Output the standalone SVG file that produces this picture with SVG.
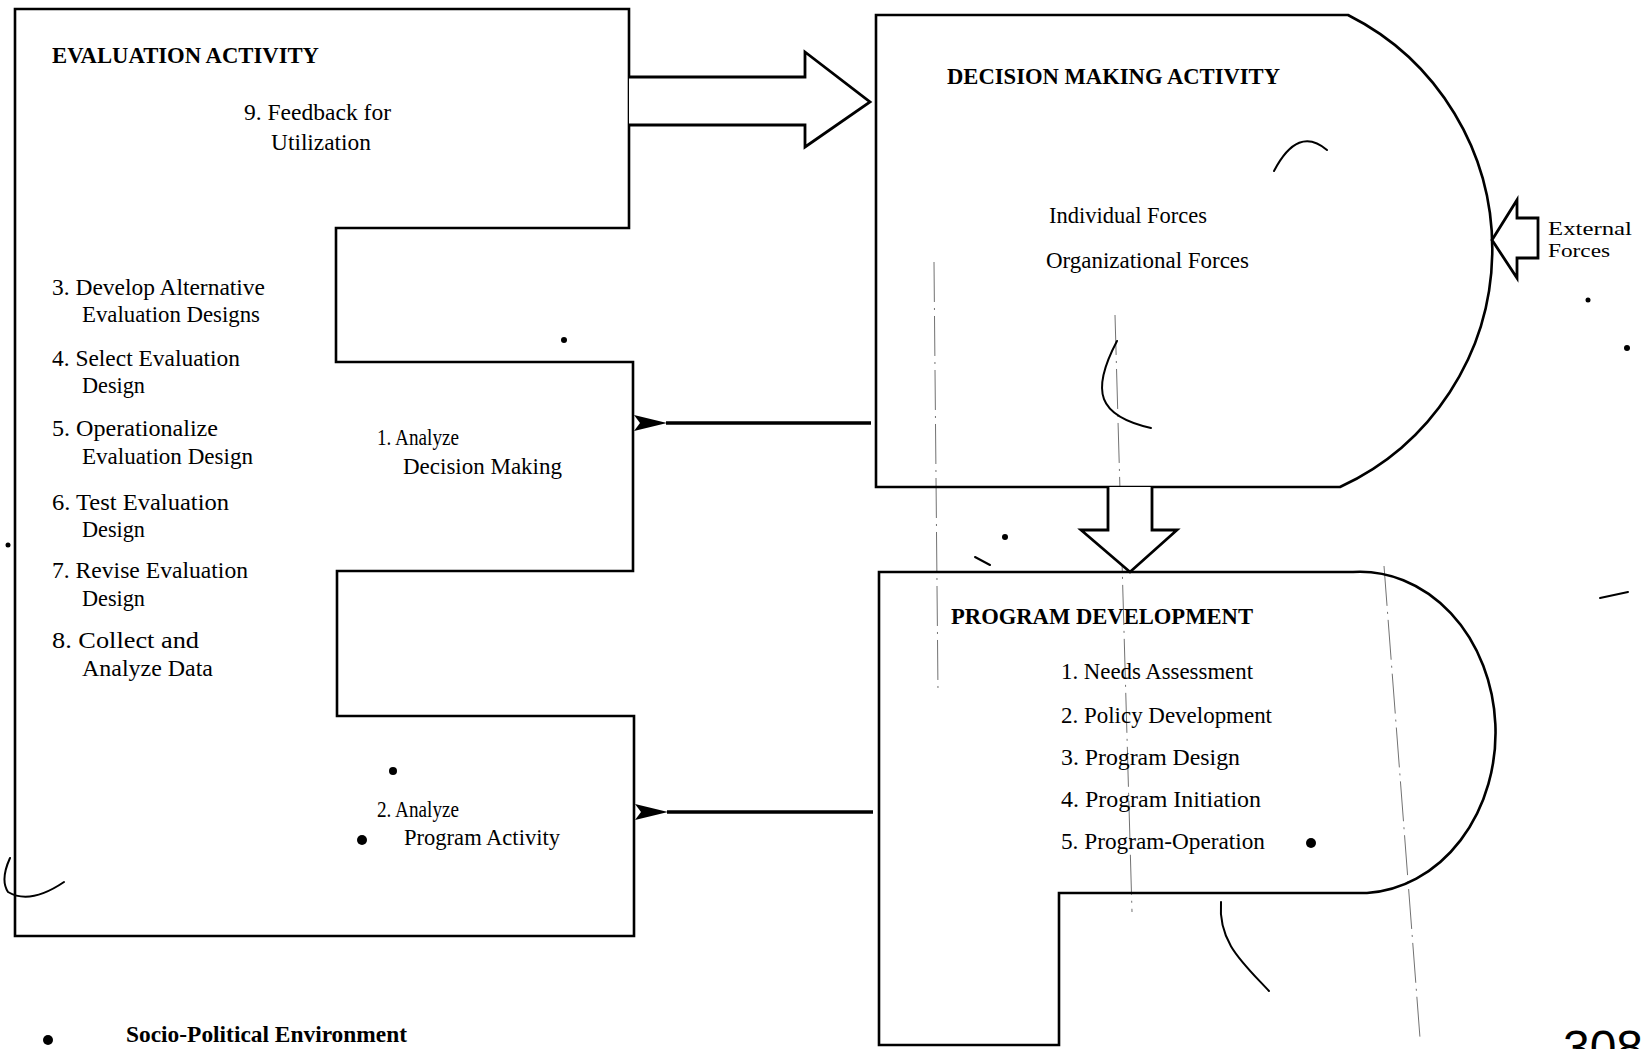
<svg xmlns="http://www.w3.org/2000/svg" width="1644" height="1049" viewBox="0 0 1644 1049">
  <defs>
    <style>
      .shape { fill: none; stroke: #000; stroke-width: 2.6; stroke-linejoin: miter; }
      .hollow { fill: #fff; stroke: #000; stroke-width: 2.8; stroke-linejoin: miter; }
      .link { fill: none; stroke: #000; stroke-width: 3.5; }
      .head { font-family: "Liberation Serif", "Times New Roman", serif; font-weight: bold; font-size: 23px; fill: #000; }
      .body { font-family: "Liberation Serif", "Times New Roman", serif; font-size: 23px; fill: #000; }
      .small { font-family: "Liberation Serif", "Times New Roman", serif; font-size: 19px; fill: #000; }
      .mark { fill: none; stroke: #000; stroke-width: 2; stroke-linecap: round; }
      .faint { fill: none; stroke: #000; stroke-width: 0.8; stroke-dasharray: 40 6 2 6; opacity: 0.7; }
      .dot { fill: #000; }
    </style>
    <marker id="bigHead" viewBox="0 0 33 16" refX="1" refY="8" markerWidth="33" markerHeight="16" markerUnits="userSpaceOnUse" orient="auto">
      <path d="M0,8 L33,0 L27,8 L33,16 Z" fill="#000"/>
    </marker>
  </defs>

  <rect width="1644" height="1049" fill="#fff"/>

  <!-- faint scan lines -->
  <g id="scan-lines">
    <path class="faint" d="M934,262 L938,692"/>
    <path class="faint" d="M1115,315 L1132,912"/>
    <path class="faint" d="M1384,566 L1420,1038"/>
  </g>

  <!-- Evaluation activity (E-shaped block) -->
  <g id="evaluation">
    <path class="shape" d="M15,9 H629 V228 H336 V362 H633 V571 H337 V716 H634 V936 H15 Z"/>
    <text class="head" x="52" y="63" textLength="267" lengthAdjust="spacingAndGlyphs">EVALUATION ACTIVITY</text>
    <text class="body" x="244" y="120" textLength="147" lengthAdjust="spacingAndGlyphs">9. Feedback for</text>
    <text class="body" x="271" y="150" textLength="100" lengthAdjust="spacingAndGlyphs">Utilization</text>
    <text class="body" x="52" y="295" textLength="213" lengthAdjust="spacingAndGlyphs">3. Develop Alternative</text>
    <text class="body" x="82" y="322" textLength="178" lengthAdjust="spacingAndGlyphs">Evaluation Designs</text>
    <text class="body" x="52" y="366" textLength="188" lengthAdjust="spacingAndGlyphs">4. Select Evaluation</text>
    <text class="body" x="82" y="393" textLength="63" lengthAdjust="spacingAndGlyphs">Design</text>
    <text class="body" x="52" y="436" textLength="166" lengthAdjust="spacingAndGlyphs">5. Operationalize</text>
    <text class="body" x="82" y="464" textLength="171" lengthAdjust="spacingAndGlyphs">Evaluation Design</text>
    <text class="body" x="52" y="510" textLength="177" lengthAdjust="spacingAndGlyphs">6. Test Evaluation</text>
    <text class="body" x="82" y="537" textLength="63" lengthAdjust="spacingAndGlyphs">Design</text>
    <text class="body" x="52" y="578" textLength="196" lengthAdjust="spacingAndGlyphs">7. Revise Evaluation</text>
    <text class="body" x="82" y="606" textLength="63" lengthAdjust="spacingAndGlyphs">Design</text>
    <text class="body" x="52" y="648" textLength="147" lengthAdjust="spacingAndGlyphs">8. Collect and</text>
    <text class="body" x="82" y="676" textLength="131" lengthAdjust="spacingAndGlyphs">Analyze Data</text>
    <text class="body" x="377" y="445" textLength="82" lengthAdjust="spacingAndGlyphs">1. Analyze</text>
    <text class="body" x="403" y="474" textLength="159" lengthAdjust="spacingAndGlyphs">Decision Making</text>
    <text class="body" x="377" y="817" textLength="82" lengthAdjust="spacingAndGlyphs">2. Analyze</text>
    <text class="body" x="404" y="845" textLength="156" lengthAdjust="spacingAndGlyphs">Program Activity</text>
  </g>

  <!-- Decision making activity -->
  <g id="decision">
    <path class="shape" d="M876,15 H1348 A262,262 0 0 1 1340,487 H876 Z"/>
    <text class="head" x="947" y="84" textLength="333" lengthAdjust="spacingAndGlyphs">DECISION MAKING ACTIVITY</text>
    <text class="body" x="1049" y="223" textLength="158" lengthAdjust="spacingAndGlyphs">Individual Forces</text>
    <text class="body" x="1046" y="268" textLength="203" lengthAdjust="spacingAndGlyphs">Organizational Forces</text>
  </g>

  <!-- Program development -->
  <g id="program">
    <path class="shape" d="M879,572 H1353 A135,160 0 0 1 1367,893 H1059 V1045 H879 Z"/>
    <text class="head" x="951" y="624" textLength="302" lengthAdjust="spacingAndGlyphs">PROGRAM DEVELOPMENT</text>
    <text class="body" x="1061" y="679" textLength="192" lengthAdjust="spacingAndGlyphs">1. Needs Assessment</text>
    <text class="body" x="1061" y="723" textLength="211" lengthAdjust="spacingAndGlyphs">2. Policy Development</text>
    <text class="body" x="1061" y="765" textLength="179" lengthAdjust="spacingAndGlyphs">3. Program Design</text>
    <text class="body" x="1061" y="807" textLength="200" lengthAdjust="spacingAndGlyphs">4. Program Initiation</text>
    <text class="body" x="1061" y="849" textLength="204" lengthAdjust="spacingAndGlyphs">5. Program-Operation</text>
  </g>

  <!-- External forces label -->
  <g id="external">
    <text class="small" x="1548" y="235" textLength="84" lengthAdjust="spacingAndGlyphs">External</text>
    <text class="small" x="1548" y="257" textLength="62" lengthAdjust="spacingAndGlyphs">Forces</text>
  </g>

  <!-- Environment caption and page number -->
  <g id="environment">
    <text class="head" x="126" y="1042" font-size="26" textLength="281" lengthAdjust="spacingAndGlyphs">Socio-Political Environment</text>
    <text x="1563" y="1064" font-family="Liberation Sans, Arial, sans-serif" font-size="48" fill="#000" textLength="80" lengthAdjust="spacingAndGlyphs">308</text>
  </g>

  <!-- connectors -->
  <g id="connectors">
    <!-- hollow block arrow: evaluation to decision making -->
    <path class="hollow" d="M629,77 H805 V52 L870,102 L805,147 V125 H629"/>
    <!-- hollow block arrow: decision making to program development -->
    <path class="hollow" d="M1108,487 V530 H1081 L1130,572 L1177,530 H1152 V487"/>
    <!-- hollow block arrow: external forces into decision making -->
    <path class="hollow" d="M1538,218 H1517 V200 L1492,240 L1517,278 V258 H1538 Z"/>
    <!-- decision making back to evaluation -->
    <path class="link" d="M871,423 H666" marker-end="url(#bigHead)"/>
    <!-- program development back to evaluation -->
    <path class="link" d="M873,812 H667" marker-end="url(#bigHead)"/>
  </g>

  <!-- pen marks and specks -->
  <g id="marks">
    <path class="mark" d="M1274,171 Q1298,125 1327,150"/>
    <path class="mark" d="M1117,341 C1090,392 1098,416 1151,428"/>
    <path class="mark" d="M1221,902 C1218,942 1242,962 1269,991"/>
    <path class="mark" d="M10,858 Q0,880 8,892 Q30,905 64,882"/>
    <path class="mark" d="M1600,598 L1628,592"/>
    <path class="mark" d="M975,557 L990,565"/>
    <circle class="dot" cx="564" cy="340" r="3"/>
    <circle class="dot" cx="362" cy="840" r="5"/>
    <circle class="dot" cx="393" cy="771" r="4"/>
    <circle class="dot" cx="1311" cy="843" r="5"/>
    <circle class="dot" cx="1005" cy="537" r="3"/>
    <circle class="dot" cx="1627" cy="348" r="3"/>
    <circle class="dot" cx="1588" cy="300" r="2.5"/>
    <circle class="dot" cx="8" cy="545" r="2.5"/>
    <circle class="dot" cx="48" cy="1040" r="5"/>
  </g>
</svg>
